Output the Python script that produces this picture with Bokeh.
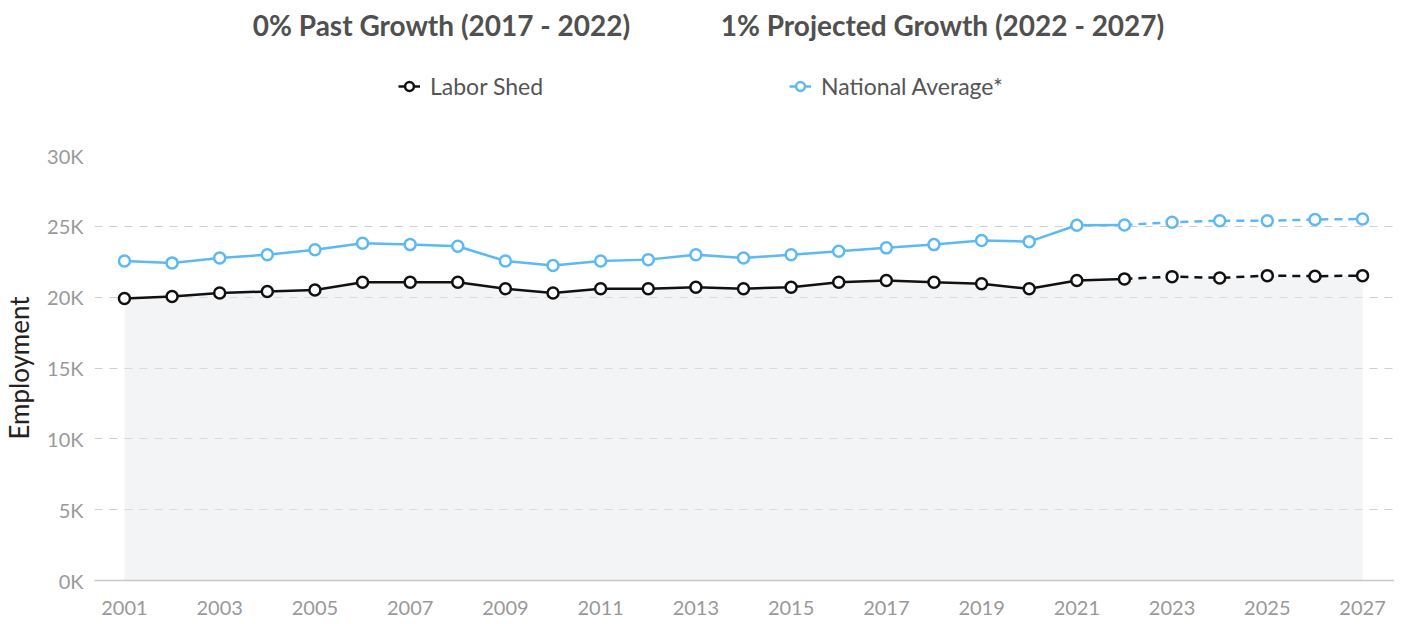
from bokeh.plotting import figure
from bokeh.layouts import column
from bokeh.models import FixedTicker, Label, Legend, LegendItem, Range1d
from bokeh.embed import file_html
from bokeh.resources import INLINE

# ---------------- data ----------------
years = [2001, 2002, 2003, 2004, 2005, 2006, 2007, 2008, 2009, 2010,
         2011, 2012, 2013, 2014, 2015, 2016, 2017, 2018, 2019, 2020,
         2021, 2022, 2023, 2024, 2025, 2026, 2027]
labor_shed = [19900, 20050, 20300, 20400, 20500, 21050, 21050, 21050, 20600, 20300,
              20600, 20600, 20700, 20600, 20700, 21050, 21170, 21050, 20940, 20590,
              21170, 21290, 21450, 21360, 21520, 21480, 21520]
national_avg = [22550, 22420, 22770, 23000, 23340, 23800, 23710, 23590, 22550, 22230,
                22550, 22650, 23000, 22770, 23000, 23240, 23480, 23710, 24000, 23920,
                25080, 25100, 25290, 25400, 25400, 25480, 25520]
last_actual_year = 2022
series_names = ["Labor Shed", "National Average*"]
titles = ["0% Past Growth (2017 - 2022)", "1% Projected Growth (2022 - 2027)"]
y_ticks = [0, 5000, 10000, 15000, 20000, 25000, 30000]
y_tick_labels = ["0K", "5K", "10K", "15K", "20K", "25K", "30K"]
x_ticks = [2001, 2003, 2005, 2007, 2009, 2011, 2013, 2015, 2017, 2019, 2021, 2023, 2025, 2027]
x_tick_labels = [str(t) for t in x_ticks]
y_axis_title = "Employment"

# ---------------- styles ----------------
FONT = "Lato"
BLACK = "#111111"
BLUE = "#5db8f6"
GRAY_TXT = "#999999"
colors = [BLACK, BLUE]
series_vals = [labor_shed, national_avg]
W = 1394
TOP_H = 140
FRAME_LEFT = 92  # header frame is aligned with main chart frame

split = years.index(last_actual_year)

# ---------------- header figure (titles + legend) ----------------
top = figure(width=W, height=TOP_H, output_backend="svg", toolbar_location=None,
             x_range=Range1d(0, W), y_range=Range1d(0, TOP_H),
             min_border_left=0, min_border_right=0, min_border_top=0, min_border_bottom=0)
top.outline_line_color = None
top.axis.visible = False
top.grid.visible = False

leg_items = []
for name, vals, color in zip(series_names, series_vals, colors):
    # same series, far outside this header's ranges: only used for legend glyphs
    lr = top.line(x=years, y=vals, line_color=color, line_width=2.5)
    sr = top.scatter(x=years, y=vals, marker="circle", size=11, fill_color="white",
                     line_color=color, line_width=2.5)
    leg_items.append(LegendItem(label=name, renderers=[lr, sr]))

legend = Legend(items=leg_items, location=(396 - FRAME_LEFT, TOP_H - 100),
                orientation="horizontal",
                spacing=246, padding=0, margin=0, border_line_color=None,
                background_fill_alpha=0, glyph_width=22, glyph_height=22,
                label_standoff=10, label_text_font=FONT, label_text_font_size="23px",
                label_text_color="#555555", label_height=22)
top.add_layout(legend)

for t, xc in zip(titles, [439, 940]):
    top.add_layout(Label(x=xc - FRAME_LEFT, y=TOP_H - 24, x_units="screen", y_units="screen",
                         text=t, text_font=FONT, text_font_style="bold",
                         text_font_size="28px", text_color="#505050",
                         text_baseline="middle", text_align="center"))

# ---------------- main chart ----------------
p = figure(width=W, height=480, output_backend="svg", toolbar_location=None,
           x_range=Range1d(2000.371, 2027.671), y_range=Range1d(0, 30000),
           min_border_left=FRAME_LEFT, min_border_right=0, min_border_top=15,
           min_border_bottom=40)
p.outline_line_color = None

# area under labor shed
p.varea(x=years, y1=[0] * len(years), y2=labor_shed,
        fill_color="#e4e7ec", fill_alpha=0.45)

for vals, color in zip(series_vals, colors):
    p.line(years[:split + 1], vals[:split + 1], line_color=color, line_width=2.5)
    p.line(years[split:], vals[split:], line_color=color, line_width=2.5,
           line_dash="8 6")
    p.scatter(years, vals, marker="circle", size=11, fill_color="white",
              line_color=color, line_width=2.5)

# axes
p.xaxis.ticker = FixedTicker(ticks=x_ticks)
p.xaxis.major_label_overrides = dict(zip(x_ticks, x_tick_labels))
p.xaxis.axis_line_color = "#c8c8c8"
p.xaxis.axis_line_width = 1.5
p.xaxis.major_tick_line_color = None
p.xaxis.minor_tick_line_color = None
p.xaxis.major_label_standoff = 14
p.xaxis.major_label_text_font = FONT
p.xaxis.major_label_text_font_size = "20px"
p.xaxis.major_label_text_color = GRAY_TXT

p.yaxis.ticker = FixedTicker(ticks=y_ticks)
p.yaxis.major_label_overrides = dict(zip(y_ticks, y_tick_labels))
p.yaxis.axis_line_color = None
p.yaxis.major_tick_line_color = None
p.yaxis.minor_tick_line_color = None
p.yaxis.major_label_standoff = 5
p.yaxis.major_label_text_font = FONT
p.yaxis.major_label_text_font_size = "20px"
p.yaxis.major_label_text_color = GRAY_TXT
p.yaxis.axis_label = y_axis_title
p.yaxis.axis_label_text_font = FONT
p.yaxis.axis_label_text_font_style = "normal"
p.yaxis.axis_label_text_font_size = "26px"
p.yaxis.axis_label_text_color = "#222222"
p.yaxis.axis_label_standoff = 9

p.xgrid.visible = False
p.ygrid.ticker = FixedTicker(ticks=y_ticks[1:])
p.ygrid.grid_line_color = "#cfcfcf"
p.ygrid.grid_line_dash = "8 7"
p.ygrid.grid_line_width = 1

layout = column(top, p, spacing=0)
open("out.html", "w").write(file_html(layout, INLINE))
